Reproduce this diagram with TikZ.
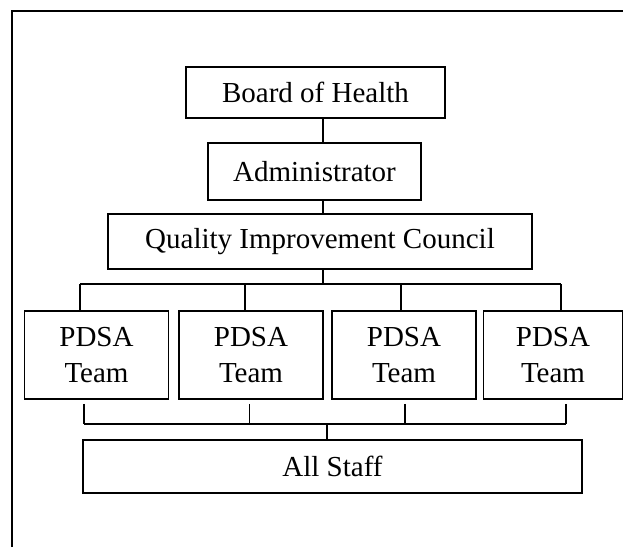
\documentclass[tikz,border=0pt]{standalone}
\usepackage{fontspec}
\setmainfont{Liberation Serif}
\usetikzlibrary{calc}
\tikzset{
  unit/.style={draw,line width=1.6pt,inner sep=0pt,align=center,font=\fontsize{29}{36}\selectfont},
  team/.style={unit,minimum width=144pt,minimum height=88pt},
}
\begin{document}
\begin{tikzpicture}[x=1pt,y=-1pt,line width=1.6pt]
  \useasboundingbox (0,0) rectangle (623,547);
  \draw[line width=2.2pt] (12,547)--(12,11)--(623,11); %frame
  %levels
  \node[unit,minimum width=259pt,minimum height=51pt] (board) at (315.5,92.5) {Board of Health};
  \node[unit,minimum width=213pt,minimum height=57pt] (admin) at (314.5,171.5) {Administrator};
  \node[unit,minimum width=424pt,minimum height=55pt] (qic) at (320,241.5) {Quality Improvement Council};
  \node[team] (team1) at (96.5,355) {PDSA\\Team};
  \node[team] (team2) at (251,355) {PDSA\\Team};
  \node[team] (team3) at (404,355) {PDSA\\Team};
  \node[team,minimum width=139pt] (team4) at (553,355) {PDSA\\Team};
  \node[unit,minimum width=499pt,minimum height=53pt] (staff) at (332.5,466.5) {All Staff};
  %spine
  \coordinate (spine) at (323,0);
  \coordinate (bus) at (0,284);
  \coordinate (low) at (0,424);
  \coordinate (drop) at (327,424);
  \draw (board.south -| spine)--(admin.north -| spine);
  \draw (admin.south -| spine)--(qic.north -| spine);
  \draw (qic.south -| spine)--(bus -| spine);
  %branches
  \foreach \n/\dx/\ex in {1/-16.5/-12.5,2/-6/-1.5,3/-3/1,4/8/13}{
    \coordinate (up\n) at ([xshift=\dx pt]team\n.north);
    \coordinate (dn\n) at ([xshift=\ex pt,yshift=-4pt]team\n.south);
    \draw (up\n)--(up\n |- bus);
    \draw (dn\n)--(dn\n |- low);
  }
  \draw (up1 |- bus)--(up4 |- bus);
  \draw (dn1 |- low)--(dn4 |- low);
  \draw (drop)--(staff.north -| drop);
\end{tikzpicture}
\end{document}
